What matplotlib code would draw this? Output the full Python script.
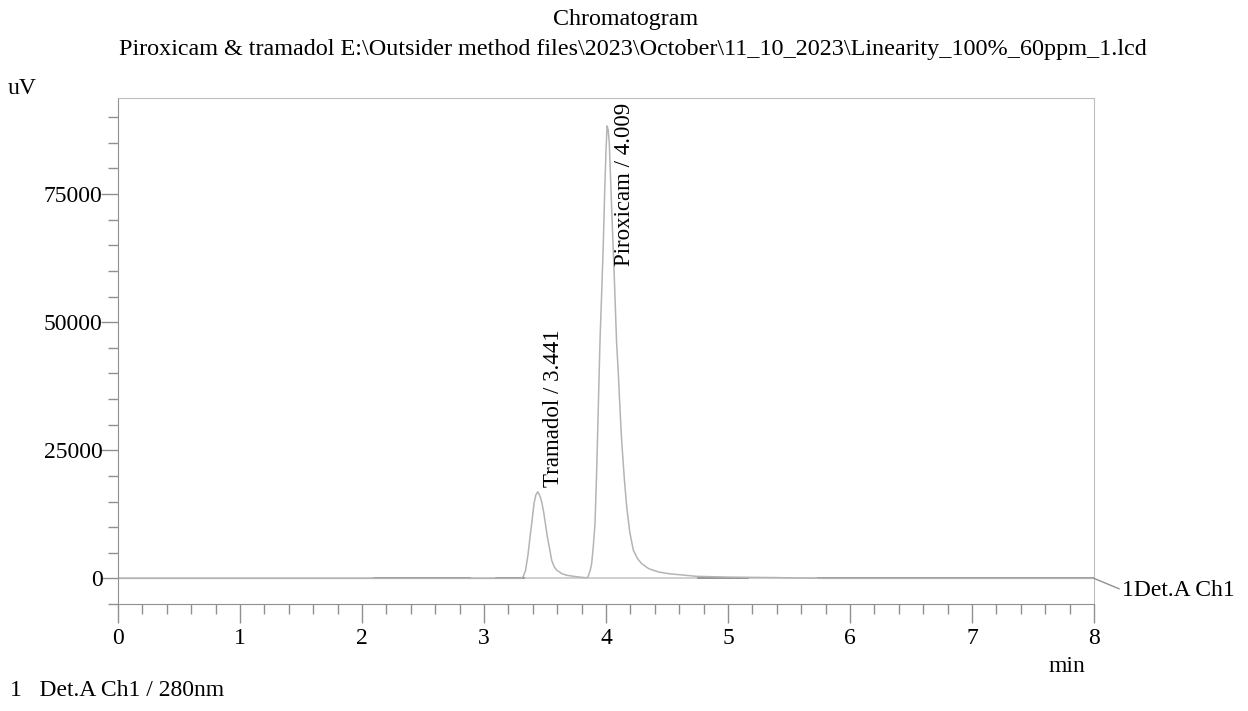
import numpy as np
import matplotlib.pyplot as plt
from matplotlib.ticker import MultipleLocator

# Chromatogram trace (time in min, signal in uV)
time_min = [0.0, 3.10, 3.30, 3.32, 3.34, 3.36, 3.377, 3.395, 3.41, 3.425, 3.441,
            3.46, 3.475, 3.49, 3.505, 3.52, 3.54, 3.555, 3.575, 3.596, 3.64,
            3.68, 3.75, 3.82, 3.85, 3.87, 3.882, 3.895, 3.91, 3.923, 3.937,
            3.951, 3.965, 3.978, 3.99, 4.0, 4.009, 4.018, 4.027, 4.047, 4.068,
            4.087, 4.101, 4.115, 4.128, 4.15, 4.17, 4.195, 4.224, 4.26, 4.293,
            4.35, 4.43, 4.52, 4.61, 4.74, 5.0, 5.4, 5.8, 8.0]
signal_uv = [0, 0, 0, 300, 1500, 4500, 8000, 11500, 14600, 16300, 16900,
             16000, 14700, 12800, 10400, 8000, 5500, 3500, 2300, 1600, 900,
             600, 350, 150, 150, 1500, 2800, 6000, 10700, 20500, 33500,
             46500, 56000, 65400, 76000, 83500, 88300, 87500, 85000, 71900, 58800,
             45900, 40000, 33000, 27000, 19500, 13900, 9000, 5500, 3800, 2870,
             1900, 1250, 900, 700, 400, 250, 150, 0, 0]

# integration baseline segments (darker)
baseline_segments = [(2.10, 2.885), (3.10, 3.33), (4.75, 5.16), (5.74, 8.0)]

peak_names = ['Tramadol', 'Piroxicam']
peak_rt = [3.441, 4.009]
label_pos = [(3.572, 17800), (4.148, 61000)]

x_ticks = [0, 1, 2, 3, 4, 5, 6, 7, 8]
y_ticks = [0, 25000, 50000, 75000]

plt.rcParams['font.family'] = ['Liberation Serif', 'DejaVu Serif']
fs = 17

W, H = 1248, 711
fig = plt.figure(figsize=(W / 100, H / 100), dpi=100)
ax = fig.add_axes([118 / W, 1 - 604 / H, (1094 - 118) / W, (604 - 98) / H])

trace_col = '#b4b4b4'
ax.plot([0, 8], [0, 0], color='#c8c8c8', lw=1.2)
for a, b in baseline_segments:
    ax.plot([a, b], [0, 0], color='#8a8a8a', lw=1.2)
ax.plot(time_min, signal_uv, color=trace_col, lw=1.1)

for name, rt, (lx, ly) in zip(peak_names, peak_rt, label_pos):
    ax.text(lx, ly, f'{name} / {rt:.3f}', rotation=90, ha='center', va='bottom',
            fontsize=16.5)

ax.set_xlim(0, 8)
ax.set_ylim(-5000, 93750)
ax.set_xticks(x_ticks)
ax.set_yticks(y_ticks)
ax.xaxis.set_minor_locator(MultipleLocator(0.2))
ax.yaxis.set_minor_locator(MultipleLocator(5000))
ax.tick_params(axis='both', which='major', direction='out', length=14, width=1,
               color='#909090', labelsize=fs)
ax.tick_params(axis='both', which='minor', direction='out', length=7, width=1,
               color='#909090')
ax.tick_params(axis='y', which='major', length=12)
ax.tick_params(axis='x', pad=3)
ax.tick_params(axis='y', pad=-1)
for s in ['left', 'bottom']:
    ax.spines[s].set_color('#909090')
for s in ['top', 'right']:
    ax.spines[s].set_color('#bdbdbd')

# right-hand channel label with leader line
ax.annotate('1Det.A Ch1', xy=(8, 0), xytext=(1122, H - 590), textcoords='figure pixels',
            fontsize=fs, va='center', ha='left',
            arrowprops=dict(arrowstyle='-', color='#909090', lw=1, shrinkA=0, shrinkB=0,
                            relpos=(0, 0.5)))

fig.text(626 / W, 1 - 19 / H, 'Chromatogram', ha='center', va='center', fontsize=17.3)
fig.text(633 / W, 1 - 50 / H,
         r'Piroxicam & tramadol E:\Outsider method files\2023\October\11_10_2023\Linearity_100%_60ppm_1.lcd',
         ha='center', va='center', fontsize=17.4)
fig.text(8 / W, 1 - 88 / H, 'uV', ha='left', va='center', fontsize=fs)
fig.text(1067 / W, 1 - 667 / H, 'min', ha='center', va='center', fontsize=fs)
fig.text(10 / W, 1 - 691 / H, '1   Det.A Ch1 / 280nm', ha='left', va='center', fontsize=fs)

fig.savefig('out.png', dpi=100)
